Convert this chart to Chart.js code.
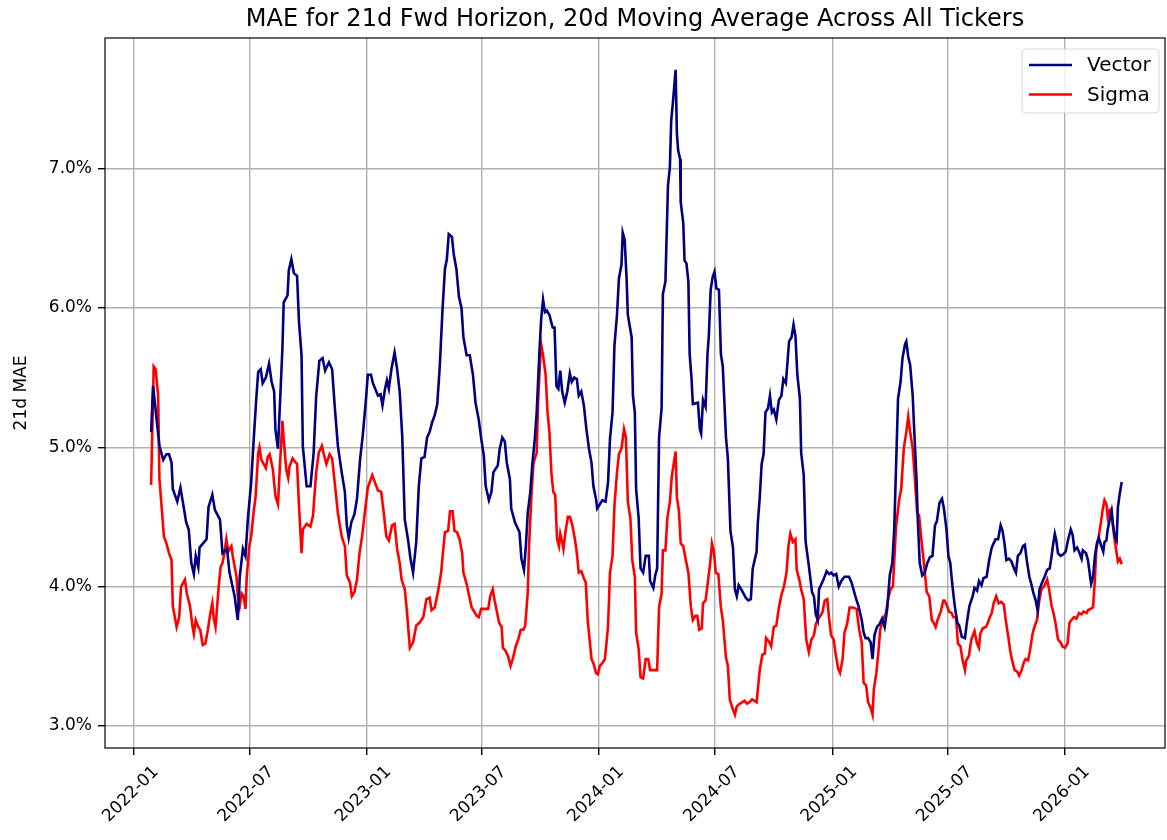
<!DOCTYPE html>
<html>
<head>
<meta charset="utf-8">
<script src="https://cdn.jsdelivr.net/npm/chart.js@4.4.1/dist/chart.umd.min.js"></script>
<style>
  html, body { margin: 0; padding: 0; background: #ffffff; }
  #wrap { width: 1167px; height: 840px; }
</style>
</head>
<body>
<div id="wrap"><canvas id="maeChart" width="1167" height="840"></canvas></div>
<script>
// 20d moving average of 21d fwd MAE (in %)
var vectorDates = [
  '2022-01-28','2022-01-31','2022-02-10','2022-02-16','2022-02-21','2022-02-25','2022-03-01','2022-03-03','2022-03-10','2022-03-15',
  '2022-03-19','2022-03-24','2022-03-28','2022-04-01','2022-04-05','2022-04-08','2022-04-12','2022-04-14','2022-04-25','2022-04-28',
  '2022-05-04','2022-05-08','2022-05-16','2022-05-20','2022-05-27','2022-05-31','2022-06-08','2022-06-13','2022-06-16','2022-06-21',
  '2022-06-25','2022-06-29','2022-07-04','2022-07-08','2022-07-12','2022-07-15','2022-07-19','2022-07-22','2022-07-27','2022-08-01',
  '2022-08-05','2022-08-09','2022-08-11','2022-08-15','2022-08-19','2022-08-22','2022-08-24','2022-08-30','2022-09-01','2022-09-05',
  '2022-09-09','2022-09-14','2022-09-17','2022-09-21','2022-09-23','2022-09-29','2022-10-05','2022-10-10','2022-10-14','2022-10-19',
  '2022-10-24','2022-10-28','2022-11-03','2022-11-08','2022-11-12','2022-11-17','2022-11-23','2022-11-28','2022-12-01','2022-12-04',
  '2022-12-08','2022-12-13','2022-12-17','2022-12-22','2022-12-26','2022-12-31','2023-01-03','2023-01-08','2023-01-11','2023-01-19',
  '2023-01-23','2023-01-26','2023-01-30','2023-02-02','2023-02-05','2023-02-09','2023-02-14','2023-02-18','2023-02-22','2023-02-26',
  '2023-03-02','2023-03-07','2023-03-11','2023-03-15','2023-03-20','2023-03-24','2023-03-28','2023-04-02','2023-04-06','2023-04-10',
  '2023-04-14','2023-04-18','2023-04-22','2023-04-26','2023-04-30','2023-05-04','2023-05-07','2023-05-10','2023-05-15','2023-05-18',
  '2023-05-22','2023-05-26','2023-05-30','2023-06-02','2023-06-07','2023-06-12','2023-06-17','2023-06-21','2023-06-26','2023-06-30',
  '2023-07-04','2023-07-07','2023-07-12','2023-07-16','2023-07-19','2023-07-26','2023-07-29','2023-08-02','2023-08-06','2023-08-09',
  '2023-08-14','2023-08-16','2023-08-22','2023-08-29','2023-09-01','2023-09-05','2023-09-08','2023-09-11','2023-09-15','2023-09-18',
  '2023-09-22','2023-09-25','2023-09-29','2023-10-02','2023-10-05','2023-10-08','2023-10-11','2023-10-15','2023-10-20','2023-10-23',
  '2023-10-26','2023-10-29','2023-11-01','2023-11-04','2023-11-08','2023-11-12','2023-11-16','2023-11-19','2023-11-23','2023-11-27',
  '2023-11-30','2023-12-04','2023-12-08','2023-12-12','2023-12-16','2023-12-20','2023-12-23','2023-12-27','2023-12-29','2024-01-02',
  '2024-01-06','2024-01-11','2024-01-15','2024-01-18','2024-01-22','2024-01-25','2024-01-29','2024-02-01','2024-02-05','2024-02-07',
  '2024-02-10','2024-02-13','2024-02-15','2024-02-21','2024-02-23','2024-02-26','2024-02-28','2024-03-03','2024-03-06','2024-03-10',
  '2024-03-14','2024-03-19','2024-03-21','2024-03-26','2024-03-29','2024-04-01','2024-04-04','2024-04-08','2024-04-10','2024-04-14',
  '2024-04-18','2024-04-21','2024-04-23','2024-04-26','2024-04-30','2024-05-02','2024-05-04','2024-05-07','2024-05-08','2024-05-12',
  '2024-05-14','2024-05-17','2024-05-20','2024-05-22','2024-05-25','2024-05-27','2024-06-04','2024-06-07','2024-06-09','2024-06-12',
  '2024-06-16','2024-06-19','2024-06-21','2024-06-24','2024-06-27','2024-06-30','2024-07-03','2024-07-07','2024-07-10','2024-07-13',
  '2024-07-18','2024-07-21','2024-07-25','2024-07-29','2024-08-01','2024-08-04','2024-08-07','2024-08-11','2024-08-18','2024-08-22',
  '2024-08-26','2024-08-29','2024-09-01','2024-09-04','2024-09-06','2024-09-09','2024-09-12','2024-09-15','2024-09-18','2024-09-22',
  '2024-09-25','2024-09-28','2024-10-01','2024-10-05','2024-10-09','2024-10-13','2024-10-16','2024-10-20','2024-10-23','2024-10-25',
  '2024-10-29','2024-11-01','2024-11-04','2024-11-07','2024-11-11','2024-11-13','2024-11-17','2024-11-20','2024-11-25','2024-11-30',
  '2024-12-03','2024-12-06','2024-12-09','2024-12-11','2024-12-15','2024-12-18','2024-12-23','2024-12-27','2024-12-30','2025-01-03',
  '2025-01-07','2025-01-11','2025-01-15','2025-01-20','2025-01-27','2025-01-31','2025-02-03','2025-02-08','2025-02-11','2025-02-16',
  '2025-02-19','2025-02-22','2025-02-26','2025-03-02','2025-03-05','2025-03-08','2025-03-12','2025-03-16','2025-03-20','2025-03-24',
  '2025-03-28','2025-04-01','2025-04-05','2025-04-08','2025-04-10','2025-04-14','2025-04-18','2025-04-21','2025-04-25','2025-04-27',
  '2025-04-30','2025-05-03','2025-05-07','2025-05-09','2025-05-13','2025-05-15','2025-05-18','2025-05-22','2025-05-26','2025-05-30',
  '2025-06-03','2025-06-07','2025-06-11','2025-06-14','2025-06-18','2025-06-22','2025-06-25','2025-06-29','2025-07-02','2025-07-05',
  '2025-07-08','2025-07-12','2025-07-16','2025-07-19','2025-07-23','2025-07-28','2025-07-31','2025-08-04','2025-08-09','2025-08-12',
  '2025-08-16','2025-08-19','2025-08-23','2025-08-26','2025-08-31','2025-09-04','2025-09-08','2025-09-11','2025-09-14','2025-09-18',
  '2025-09-22','2025-09-25','2025-09-28','2025-10-01','2025-10-05','2025-10-09','2025-10-13','2025-10-16','2025-10-19','2025-10-23',
  '2025-10-27','2025-10-30','2025-11-02','2025-11-06','2025-11-09','2025-11-12','2025-11-16','2025-11-19','2025-11-22','2025-11-27',
  '2025-11-30','2025-12-04','2025-12-08','2025-12-11','2025-12-13','2025-12-16','2025-12-18','2025-12-21','2025-12-25','2025-12-29',
  '2026-01-02','2026-01-06','2026-01-10','2026-01-13','2026-01-16','2026-01-20','2026-01-23','2026-01-27','2026-01-29','2026-02-03',
  '2026-02-06','2026-02-10','2026-02-11','2026-02-14','2026-02-17','2026-02-20','2026-02-23','2026-02-27','2026-03-02','2026-03-04',
  '2026-03-07','2026-03-09','2026-03-12','2026-03-15','2026-03-17','2026-03-20','2026-03-23','2026-03-25','2026-03-28','2026-03-31'
];
var vectorMae = [
  5.11,5.44,5.01,4.91,4.95,4.95,4.89,4.70,4.61,4.71,
  4.60,4.46,4.41,4.17,4.09,4.22,4.14,4.28,4.34,4.57,
  4.66,4.55,4.48,4.24,4.27,4.10,3.93,3.76,4.07,4.27,
  4.22,4.50,4.75,5.06,5.35,5.54,5.56,5.46,5.50,5.60,
  5.47,5.40,5.13,4.99,5.40,5.71,6.04,6.09,6.27,6.35,
  6.25,6.23,5.90,5.66,5.01,4.72,4.72,4.96,5.37,5.62,
  5.64,5.55,5.61,5.56,5.30,5.01,4.82,4.68,4.44,4.35,
  4.46,4.52,4.63,4.92,5.08,5.34,5.52,5.52,5.46,5.37,
  5.38,5.30,5.42,5.48,5.42,5.56,5.68,5.56,5.40,5.08,
  4.48,4.34,4.20,4.10,4.32,4.72,4.92,4.93,5.07,5.11,
  5.18,5.23,5.31,5.59,5.97,6.28,6.35,6.53,6.51,6.38,
  6.28,6.08,6.00,5.79,5.66,5.66,5.52,5.32,5.20,5.06,
  4.94,4.72,4.62,4.68,4.82,4.87,4.99,5.07,5.04,4.89,
  4.77,4.56,4.46,4.39,4.20,4.12,4.29,4.53,4.68,4.87,
  5.06,5.25,5.66,5.92,6.06,5.97,5.98,5.95,5.86,5.86,
  5.44,5.42,5.55,5.40,5.32,5.40,5.53,5.47,5.50,5.49,
  5.37,5.40,5.30,5.13,4.99,4.89,4.72,4.63,4.56,4.59,
  4.62,4.61,4.75,5.06,5.25,5.73,5.95,6.21,6.31,6.54,
  6.49,6.22,5.95,5.79,5.37,5.25,4.70,4.49,4.13,4.10,
  4.22,4.22,4.04,3.99,4.08,4.13,5.07,5.28,6.10,6.19,
  6.88,7.01,7.34,7.49,7.71,7.25,7.13,7.07,6.76,6.61,
  6.34,6.32,6.19,5.67,5.49,5.31,5.32,5.13,5.10,5.34,
  5.29,5.67,5.79,6.13,6.22,6.26,6.14,6.13,5.67,5.58,
  5.07,4.92,4.40,4.28,3.98,3.93,4.01,3.98,3.92,3.90,
  3.91,4.13,4.19,4.25,4.46,4.64,4.88,4.95,5.25,5.28,
  5.37,5.25,5.27,5.20,5.34,5.37,5.49,5.46,5.64,5.76,
  5.79,5.88,5.80,5.52,5.35,4.96,4.80,4.32,4.15,3.96,
  3.93,3.80,3.76,3.98,4.02,4.05,4.11,4.09,4.10,4.08,
  4.09,4.00,4.04,4.07,4.07,4.03,3.98,3.90,3.86,3.76,
  3.67,3.63,3.63,3.60,3.48,3.65,3.71,3.73,3.77,3.71,
  3.84,4.08,4.17,4.41,4.72,5.35,5.47,5.64,5.74,5.76,
  5.65,5.59,5.37,5.16,4.77,4.48,4.17,4.08,4.10,4.17,
  4.21,4.22,4.44,4.47,4.60,4.63,4.56,4.41,4.22,4.17,
  4.02,3.86,3.74,3.72,3.64,3.63,3.74,3.86,3.93,3.99,
  3.97,4.04,4.01,4.06,4.07,4.19,4.28,4.31,4.34,4.34,
  4.44,4.40,4.31,4.19,4.20,4.18,4.13,4.10,4.22,4.24,
  4.29,4.30,4.19,4.07,4.02,3.96,3.90,3.83,3.98,4.04,
  4.07,4.12,4.13,4.22,4.29,4.38,4.34,4.24,4.22,4.23,
  4.25,4.34,4.41,4.37,4.26,4.28,4.25,4.20,4.26,4.24,
  4.19,4.05,4.02,4.07,4.22,4.31,4.35,4.29,4.25,4.32,
  4.33,4.41,4.48,4.54,4.45,4.36,4.33,4.57,4.67,4.75
];

var sigmaDates = [
  '2022-01-28','2022-02-01','2022-02-04','2022-02-08','2022-02-10','2022-02-13','2022-02-17','2022-02-21','2022-02-25','2022-03-01',
  '2022-03-03','2022-03-09','2022-03-13','2022-03-16','2022-03-22','2022-03-25','2022-03-30','2022-04-03','2022-04-05','2022-04-08',
  '2022-04-12','2022-04-15','2022-04-19','2022-04-23','2022-04-27','2022-05-01','2022-05-04','2022-05-06','2022-05-09','2022-05-14',
  '2022-05-17','2022-05-20','2022-05-23','2022-05-26','2022-05-29','2022-06-03','2022-06-05','2022-06-11','2022-06-13','2022-06-16',
  '2022-06-19','2022-06-22','2022-06-25','2022-06-27','2022-07-01','2022-07-04','2022-07-08','2022-07-11','2022-07-15','2022-07-17',
  '2022-07-20','2022-07-27','2022-07-30','2022-08-02','2022-08-07','2022-08-11','2022-08-15','2022-08-18','2022-08-22','2022-08-24',
  '2022-08-28','2022-08-31','2022-09-02','2022-09-07','2022-09-10','2022-09-14','2022-09-17','2022-09-21','2022-09-23','2022-09-29',
  '2022-10-05','2022-10-09','2022-10-14','2022-10-18','2022-10-23','2022-10-26','2022-10-30','2022-11-04','2022-11-08','2022-11-12',
  '2022-11-17','2022-11-23','2022-11-28','2022-12-01','2022-12-06','2022-12-09','2022-12-13','2022-12-17','2022-12-21','2022-12-25',
  '2022-12-30','2023-01-03','2023-01-10','2023-01-14','2023-01-19','2023-01-24','2023-01-28','2023-02-01','2023-02-05','2023-02-10',
  '2023-02-14','2023-02-18','2023-02-22','2023-02-25','2023-03-02','2023-03-05','2023-03-10','2023-03-15','2023-03-20','2023-03-25',
  '2023-03-31','2023-04-05','2023-04-10','2023-04-13','2023-04-18','2023-04-23','2023-04-28','2023-05-04','2023-05-09','2023-05-12',
  '2023-05-16','2023-05-19','2023-05-23','2023-05-27','2023-05-31','2023-06-02','2023-06-07','2023-06-12','2023-06-15','2023-06-23',
  '2023-06-26','2023-06-30','2023-07-11','2023-07-14','2023-07-18','2023-07-21','2023-07-25','2023-07-28','2023-08-01','2023-08-03',
  '2023-08-07','2023-08-11','2023-08-15','2023-08-19','2023-08-23','2023-08-27','2023-08-31','2023-09-04','2023-09-07','2023-09-11',
  '2023-09-13','2023-09-17','2023-09-20','2023-09-25','2023-09-27','2023-09-30','2023-10-02','2023-10-05','2023-10-09','2023-10-12',
  '2023-10-15','2023-10-18','2023-10-21','2023-10-24','2023-10-27','2023-10-30','2023-11-01','2023-11-04','2023-11-06','2023-11-09',
  '2023-11-13','2023-11-16','2023-11-20','2023-11-24','2023-11-27','2023-11-30','2023-12-04','2023-12-08','2023-12-11','2023-12-14',
  '2023-12-17','2023-12-20','2023-12-23','2023-12-27','2023-12-30','2024-01-02','2024-01-06','2024-01-10','2024-01-12','2024-01-15',
  '2024-01-18','2024-01-22','2024-01-25','2024-01-29','2024-02-01','2024-02-05','2024-02-09','2024-02-12','2024-02-15','2024-02-19',
  '2024-02-22','2024-02-26','2024-02-28','2024-03-03','2024-03-06','2024-03-10','2024-03-14','2024-03-18','2024-03-21','2024-04-01',
  '2024-04-04','2024-04-08','2024-04-10','2024-04-14','2024-04-17','2024-04-21','2024-04-24','2024-04-27','2024-04-30','2024-05-02',
  '2024-05-05','2024-05-08','2024-05-12','2024-05-16','2024-05-20','2024-05-24','2024-05-27','2024-05-31','2024-06-03','2024-06-06',
  '2024-06-10','2024-06-12','2024-06-16','2024-06-19','2024-06-23','2024-06-26','2024-06-29','2024-07-02','2024-07-06','2024-07-10',
  '2024-07-13','2024-07-18','2024-07-21','2024-07-24','2024-07-28','2024-08-01','2024-08-04','2024-08-09','2024-08-16','2024-08-20',
  '2024-08-24','2024-08-28','2024-09-04','2024-09-06','2024-09-09','2024-09-13','2024-09-17','2024-09-19','2024-09-24','2024-09-27',
  '2024-10-01','2024-10-05','2024-10-09','2024-10-13','2024-10-17','2024-10-21','2024-10-24','2024-10-27','2024-10-31','2024-11-04',
  '2024-11-06','2024-11-10','2024-11-13','2024-11-17','2024-11-21','2024-11-25','2024-11-29','2024-12-03','2024-12-06','2024-12-09',
  '2024-12-16','2024-12-20','2024-12-24','2024-12-27','2024-12-30','2025-01-03','2025-01-06','2025-01-10','2025-01-13','2025-01-17',
  '2025-01-20','2025-01-24','2025-01-28','2025-02-02','2025-02-08','2025-02-12','2025-02-16','2025-02-19','2025-02-23','2025-02-26',
  '2025-03-02','2025-03-05','2025-03-07','2025-03-11','2025-03-14','2025-03-17','2025-03-21','2025-03-26','2025-03-29','2025-04-02',
  '2025-04-06','2025-04-09','2025-04-11','2025-04-16','2025-04-19','2025-04-23','2025-04-27','2025-04-30','2025-05-03','2025-05-07',
  '2025-05-10','2025-05-14','2025-05-17','2025-05-21','2025-05-25','2025-05-29','2025-06-02','2025-06-06','2025-06-09','2025-06-12',
  '2025-06-15','2025-06-20','2025-06-24','2025-06-26','2025-06-30','2025-07-03','2025-07-07','2025-07-10','2025-07-14','2025-07-17',
  '2025-07-21','2025-07-24','2025-07-28','2025-07-30','2025-08-03','2025-08-07','2025-08-12','2025-08-16','2025-08-19','2025-08-21',
  '2025-08-25','2025-08-30','2025-09-02','2025-09-05','2025-09-08','2025-09-11','2025-09-15','2025-09-19','2025-09-23','2025-09-27',
  '2025-09-30','2025-10-04','2025-10-07','2025-10-10','2025-10-14','2025-10-18','2025-10-21','2025-10-25','2025-10-28','2025-10-31',
  '2025-11-04','2025-11-07','2025-11-11','2025-11-14','2025-11-18','2025-11-21','2025-11-25','2025-11-29','2025-12-04','2025-12-07',
  '2025-12-11','2025-12-14','2025-12-17','2025-12-21','2025-12-25','2025-12-28','2026-01-01','2026-01-05','2026-01-08','2026-01-11',
  '2026-01-15','2026-01-19','2026-01-23','2026-01-27','2026-01-30','2026-02-04','2026-02-06','2026-02-10','2026-02-14','2026-02-17',
  '2026-02-19','2026-02-23','2026-02-26','2026-03-01','2026-03-04','2026-03-07','2026-03-09','2026-03-12','2026-03-15','2026-03-17',
  '2026-03-20','2026-03-23','2026-03-25','2026-03-28','2026-03-31'
];
var sigmaMae = [
  4.73,5.58,5.56,5.37,4.77,4.60,4.36,4.31,4.24,4.19,
  3.86,3.71,3.78,4.00,4.05,3.95,3.86,3.71,3.66,3.76,
  3.71,3.69,3.58,3.59,3.69,3.81,3.88,3.78,3.71,4.00,
  4.14,4.17,4.24,4.34,4.25,4.29,4.22,4.07,3.93,3.86,
  3.95,3.93,3.84,4.07,4.29,4.36,4.54,4.65,4.96,5.00,
  4.91,4.85,4.93,4.95,4.84,4.65,4.59,4.86,5.19,5.06,
  4.84,4.78,4.86,4.92,4.90,4.88,4.58,4.24,4.41,4.45,
  4.43,4.51,4.82,4.96,5.01,4.95,4.88,4.95,4.92,4.75,
  4.53,4.36,4.29,4.08,4.03,3.93,3.96,4.05,4.24,4.36,
  4.56,4.71,4.80,4.75,4.69,4.68,4.53,4.36,4.33,4.44,
  4.45,4.27,4.17,4.05,3.98,3.84,3.56,3.60,3.72,3.74,
  3.78,3.91,3.92,3.83,3.85,3.96,4.10,4.39,4.40,4.54,
  4.54,4.40,4.39,4.34,4.24,4.10,4.02,3.91,3.85,3.79,
  3.78,3.84,3.84,3.93,3.98,3.90,3.81,3.74,3.71,3.56,
  3.54,3.50,3.43,3.49,3.57,3.62,3.69,3.69,3.72,3.96,
  4.29,4.68,4.89,4.96,5.30,5.59,5.74,5.66,5.52,5.25,
  5.11,4.82,4.68,4.66,4.34,4.29,4.38,4.32,4.27,4.39,
  4.50,4.50,4.44,4.34,4.24,4.10,4.11,4.06,4.03,3.76,
  3.62,3.48,3.45,3.38,3.37,3.43,3.45,3.48,3.57,3.72,
  4.10,4.22,4.58,4.82,4.95,4.99,5.13,5.07,4.61,4.49,
  4.19,4.07,3.67,3.55,3.35,3.34,3.48,3.48,3.40,3.40,
  3.85,3.95,4.26,4.26,4.49,4.61,4.79,4.88,4.97,4.64,
  4.55,4.31,4.29,4.19,4.10,3.85,3.76,3.79,3.79,3.69,
  3.70,3.88,3.90,4.01,4.16,4.31,4.25,4.10,4.09,3.85,
  3.76,3.49,3.43,3.19,3.13,3.08,3.14,3.16,3.18,3.16,
  3.17,3.19,3.17,3.26,3.40,3.51,3.52,3.63,3.60,3.57,
  3.71,3.72,3.85,3.94,4.00,4.10,4.29,4.38,4.32,4.34,
  4.12,4.05,3.98,3.91,3.62,3.53,3.62,3.65,3.73,3.76,
  3.81,3.90,3.91,3.76,3.65,3.62,3.52,3.41,3.38,3.48,
  3.67,3.73,3.85,3.85,3.84,3.69,3.60,3.31,3.29,3.17,
  3.13,3.08,3.26,3.38,3.52,3.69,3.76,3.81,3.90,3.98,
  4.00,4.27,4.44,4.63,4.70,4.99,5.11,5.22,5.11,4.99,
  4.80,4.53,4.51,4.32,4.15,3.96,3.93,3.76,3.74,3.71,
  3.76,3.82,3.90,3.90,3.86,3.82,3.81,3.78,3.78,3.59,
  3.57,3.48,3.40,3.47,3.50,3.62,3.68,3.59,3.56,3.66,
  3.70,3.71,3.74,3.78,3.81,3.88,3.93,3.88,3.89,3.87,
  3.76,3.64,3.54,3.47,3.40,3.39,3.36,3.40,3.45,3.48,
  3.47,3.54,3.66,3.71,3.76,3.88,3.98,4.00,4.05,3.98,
  3.86,3.81,3.74,3.62,3.60,3.57,3.56,3.59,3.74,3.76,
  3.78,3.77,3.81,3.80,3.82,3.81,3.83,3.84,3.85,4.06,
  4.26,4.36,4.45,4.55,4.62,4.59,4.50,4.55,4.56,4.45,
  4.33,4.24,4.18,4.20,4.16
];

var xTickMonths = ['2022-01','2022-07','2023-01','2023-07','2024-01','2024-07','2025-01','2025-07','2026-01'];
var yTickValues = [3, 4, 5, 6, 7];

var DAY = 86400000;
var xMin = Date.UTC(2022, 0, 1) - 45.4 * DAY;
var xMax = Date.UTC(2026, 0, 1) + 156.9 * DAY;

function toPoints(dates, vals) {
  return dates.map(function (d, i) { return { x: Date.parse(d), y: vals[i] }; });
}

Chart.defaults.font.family = "'DejaVu Sans', sans-serif";
Chart.defaults.font.size = 17;
Chart.defaults.color = '#000000';

// black box round the plot, like the axes spines
var frame = {
  id: 'frame',
  afterDatasetsDraw: function (chart) {
    var a = chart.chartArea, ctx = chart.ctx;
    ctx.save();
    ctx.strokeStyle = '#000000';
    ctx.lineWidth = 1.2;
    ctx.strokeRect(a.left, a.top, a.right - a.left, a.bottom - a.top);
    ctx.restore();
  }
};

// legend box in the upper right corner of the plot
var cornerLegend = {
  id: 'cornerLegend',
  afterDraw: function (chart) {
    var a = chart.chartArea, ctx = chart.ctx;
    var w = 137, h = 64, r = 4;
    var x = a.right - 6 - w, y = a.top + 11;
    ctx.save();
    ctx.beginPath();
    ctx.moveTo(x + r, y);
    ctx.arcTo(x + w, y, x + w, y + h, r);
    ctx.arcTo(x + w, y + h, x, y + h, r);
    ctx.arcTo(x, y + h, x, y, r);
    ctx.arcTo(x, y, x + w, y, r);
    ctx.closePath();
    ctx.fillStyle = 'rgba(255,255,255,0.8)';
    ctx.fill();
    ctx.strokeStyle = '#d6d6d6';
    ctx.lineWidth = 1;
    ctx.stroke();
    ctx.font = "20px 'DejaVu Sans'";
    ctx.textBaseline = 'middle';
    chart.data.datasets.forEach(function (ds, i) {
      var ly = y + 16 + i * 29.5;
      ctx.strokeStyle = ds.borderColor;
      ctx.lineWidth = 2.6;
      ctx.beginPath();
      ctx.moveTo(x + 7, ly);
      ctx.lineTo(x + 50, ly);
      ctx.stroke();
      ctx.fillStyle = '#000000';
      ctx.fillText(ds.label, x + 65, ly + 1);
    });
    ctx.restore();
  }
};

new Chart(document.getElementById('maeChart'), {
  type: 'line',
  data: {
    datasets: [
      {
        label: 'Vector',
        data: toPoints(vectorDates, vectorMae),
        borderColor: '#000080',
        borderWidth: 2.6,
        pointRadius: 0,
        tension: 0,
        fill: false
      },
      {
        label: 'Sigma',
        data: toPoints(sigmaDates, sigmaMae),
        borderColor: '#ff0000',
        borderWidth: 2.6,
        pointRadius: 0,
        tension: 0,
        fill: false
      }
    ]
  },
  options: {
    responsive: false,
    animation: false,
    layout: { padding: { left: 0, right: 2, top: 0, bottom: 0 } },
    plugins: {
      legend: { display: false },
      tooltip: { enabled: false },
      title: {
        display: true,
        fullSize: false,
        text: 'MAE for 21d Fwd Horizon, 20d Moving Average Across All Tickers',
        font: { size: 24, weight: 'normal' },
        color: '#000000',
        padding: { top: 5, bottom: 4.2 }
      }
    },
    scales: {
      x: {
        type: 'linear',
        min: xMin,
        max: xMax,
        afterBuildTicks: function (scale) {
          scale.ticks = xTickMonths.map(function (m) { return { value: Date.parse(m + '-01') }; });
        },
        afterFit: function (scale) { scale.height = 92; },
        ticks: {
          autoSkip: false,
          maxRotation: 45,
          minRotation: 45,
          padding: 7,
          labelOffset: 22,
          callback: function (v) { return new Date(v).toISOString().slice(0, 7); }
        },
        grid: { color: '#b0b0b0', lineWidth: 1.4, tickColor: '#000000', tickLength: 7 },
        border: { display: false }
      },
      y: {
        type: 'linear',
        min: 2.841,
        max: 7.938,
        afterBuildTicks: function (scale) {
          scale.ticks = yTickValues.map(function (v) { return { value: v }; });
        },
        afterFit: function (scale) { scale.width = 105; },
        ticks: {
          padding: 6,
          callback: function (v) { return v.toFixed(1) + '%'; }
        },
        title: {
          display: true,
          text: '21d MAE',
          font: { size: 17 },
          padding: { top: 11, bottom: 0 }
        },
        grid: { color: '#b0b0b0', lineWidth: 1.4, tickColor: '#000000', tickLength: 7 },
        border: { display: false }
      }
    }
  },
  plugins: [frame, cornerLegend]
});
</script>
</body>
</html>
